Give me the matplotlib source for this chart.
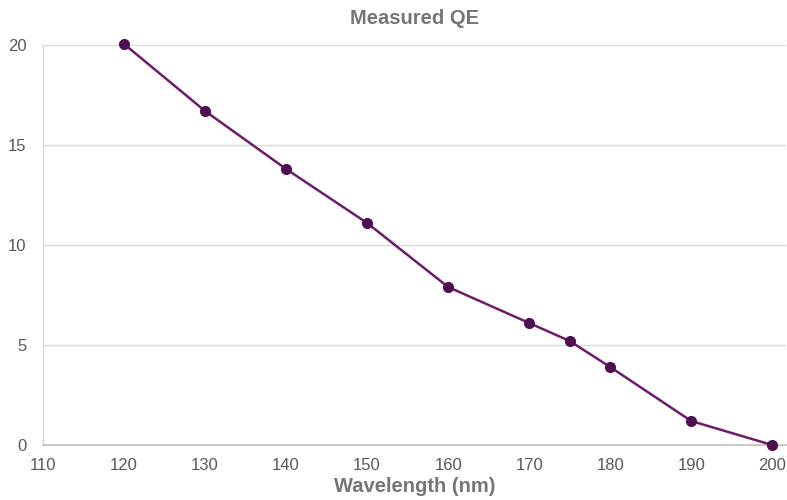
import matplotlib
matplotlib.use("Agg")
import matplotlib.pyplot as plt

wavelength = [120, 130, 140, 150, 160, 170, 175, 180, 190, 200]
qe = [20.05, 16.7, 13.8, 11.1, 7.9, 6.1, 5.2, 3.9, 1.2, 0.0]
xticks = [110, 120, 130, 140, 150, 160, 170, 180, 190, 200]
yticks = [0, 5, 10, 15, 20]

plt.rcParams['font.family'] = ['Liberation Sans', 'DejaVu Sans']

fig = plt.figure(figsize=(7.87, 5.0), dpi=100)
ax = fig.add_axes([43/787, 55/500, (786-43)/787, 400/500])

ax.plot(wavelength, qe, color='#6b1d6b', lw=1.8, marker='o', markersize=7,
        markerfacecolor='#4e1050', markeredgecolor='#4e1050', zorder=3, clip_on=False)

ax.set_xlim(110, 201.7)
ax.set_ylim(0, 20)
ax.set_xticks(xticks)
ax.set_yticks(yticks)
ax.grid(axis='y', color='#d9d9d9', lw=1)
ax.set_axisbelow(True)
for s in ['top', 'right']:
    ax.spines[s].set_visible(False)
ax.spines['left'].set_color('#d0d0d0')
ax.spines['bottom'].set_color('#c0c0c0')
ax.spines['bottom'].set_linewidth(1.2)
ax.tick_params(axis='both', length=0, labelsize=12, labelcolor='#595959')
ax.tick_params(axis='x', pad=9)
ax.tick_params(axis='y', pad=12)

ax.set_title('Measured QE', fontsize=14.5, fontweight='bold', color='#757575', pad=15)
ax.set_xlabel('Wavelength (nm)', fontsize=14.5, fontweight='bold', color='#757575', labelpad=3)

fig.savefig('out.png', dpi=100)
